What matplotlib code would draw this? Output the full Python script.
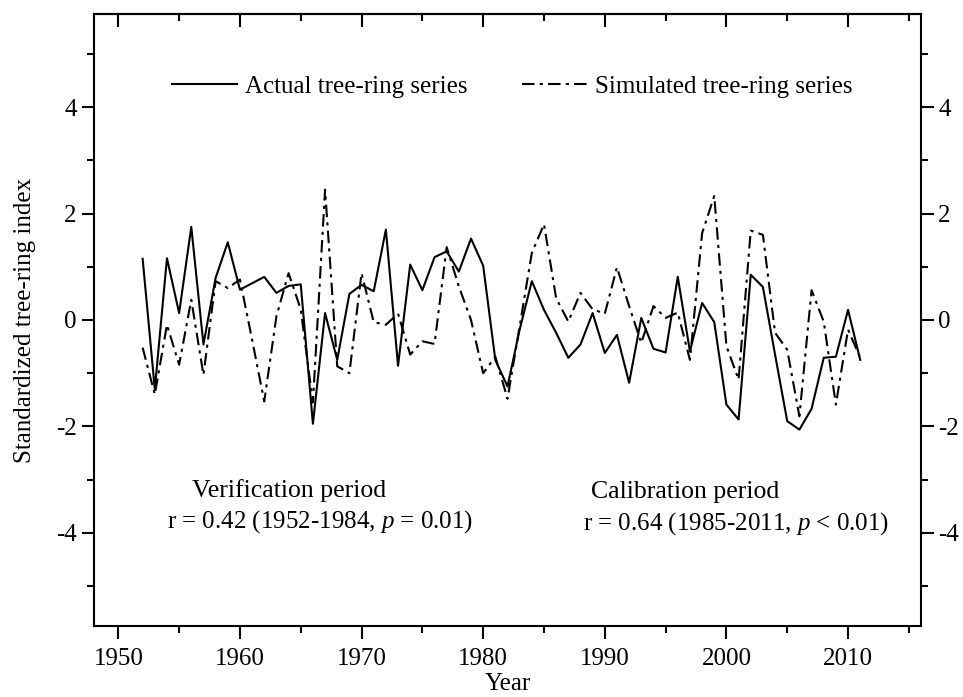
import numpy as np
import matplotlib.pyplot as plt
from matplotlib.ticker import MultipleLocator

plt.rcParams['font.family'] = 'Liberation Serif'
plt.rcParams['axes.unicode_minus'] = False
plt.rcParams['mathtext.fontset'] = 'custom'
plt.rcParams['mathtext.rm'] = 'Liberation Serif'
plt.rcParams['mathtext.it'] = 'Liberation Serif:italic'

# Tree-ring index, 1952-2011
years = np.arange(1952, 2012)
actual = [1.15, -1.30, 1.16, 0.13, 1.75, -0.46, 0.79, 1.46, 0.57, 0.69,
          0.81, 0.51, 0.64, 0.67, -1.95, 0.13, -0.75, 0.49, 0.66, 0.54,
          1.70, -0.86, 1.04, 0.56, 1.18, 1.29, 0.91, 1.53, 1.02, -0.75,
          -1.25, -0.18, 0.73, 0.19, -0.24, -0.71, -0.46, 0.13, -0.62, -0.28,
          -1.18, 0.04, -0.54, -0.61, 0.81, -0.59, 0.32, -0.04, -1.59, -1.87,
          0.85, 0.62, -0.65, -1.90, -2.06, -1.67, -0.71, -0.69, 0.19, -0.75]
simulated = [-0.52, -1.40, -0.09, -0.84, 0.38, -1.03, 0.73, 0.60, 0.76, -0.37,
             -1.53, 0.07, 0.88, 0.20, -1.55, 2.45, -0.87, -1.00, 0.88, -0.04,
             -0.09, 0.12, -0.65, -0.40, -0.45, 1.37, 0.63, 0.00, -1.00, -0.69,
             -1.48, -0.12, 1.26, 1.80, 0.41, -0.03, 0.51, 0.20, 0.12, 0.99,
             0.26, -0.43, 0.26, 0.04, 0.14, -0.75, 1.63, 2.33, -0.49, -1.12,
             1.68, 1.60, -0.24, -0.56, -1.81, 0.56, -0.03, -1.59, -0.18, -0.71]

fig = plt.figure(figsize=(9.63, 6.97), dpi=100)
ax = fig.add_axes([0.0976, 0.1019, 0.8588, 0.878])

ax.plot(years, actual, color='black', lw=1.5, label='Actual tree-ring series')
ax.plot(years, simulated, color='black', lw=1.5, dashes=(6, 2.5, 1.5, 2.5),
        label='Simulated tree-ring series')

ax.set_xlim(1948, 2016)
ax.set_ylim(-5.75, 5.75)
ax.xaxis.set_major_locator(MultipleLocator(10))
ax.xaxis.set_minor_locator(MultipleLocator(5))
ax.yaxis.set_major_locator(MultipleLocator(2))
ax.yaxis.set_minor_locator(MultipleLocator(1))

ax.tick_params(axis='x', which='both', direction='out', top=False, labelsize=18, pad=7)
ax.tick_params(axis='y', which='both', direction='out', left=True, right=True,
               labelleft=True, labelright=True, labelsize=18)
ax.tick_params(which='major', length=9, width=1.5)
ax.tick_params(which='minor', length=5, width=1.5)

# top axis: inward ticks only
top = ax.secondary_xaxis('top')
top.xaxis.set_major_locator(MultipleLocator(10))
top.xaxis.set_minor_locator(MultipleLocator(5))
top.tick_params(which='both', direction='in', labeltop=False, width=1.5)
top.tick_params(which='major', length=9)
top.tick_params(which='minor', length=5)

for s in ax.spines.values():
    s.set_linewidth(1.5)
top.spines['top'].set_linewidth(1.5)

ax.set_xlabel('Year', fontsize=18, labelpad=2)
ax.set_ylabel('Standardized tree-ring index', fontsize=18, labelpad=14)

ax.legend(loc='center', bbox_to_anchor=(0.506, 0.881), ncol=2, frameon=False,
          fontsize=18, handlelength=2.6, handletextpad=0.3, columnspacing=2.2)

ax.text(0.236, 0.222, 'Verification period', transform=ax.transAxes,
        ha='center', va='center', fontsize=18.5)
ax.text(0.088, 0.170, 'r = 0.42 (1952-1984, $\\it{p}$ = 0.01)', transform=ax.transAxes,
        ha='left', va='center', fontsize=18)
ax.text(0.715, 0.219, 'Calibration period', transform=ax.transAxes,
        ha='center', va='center', fontsize=18.5)
ax.text(0.591, 0.167, 'r = 0.64 (1985-2011, $\\it{p}$ < 0.01)', transform=ax.transAxes,
        ha='left', va='center', fontsize=18)

fig.savefig('out.png', dpi=100)
